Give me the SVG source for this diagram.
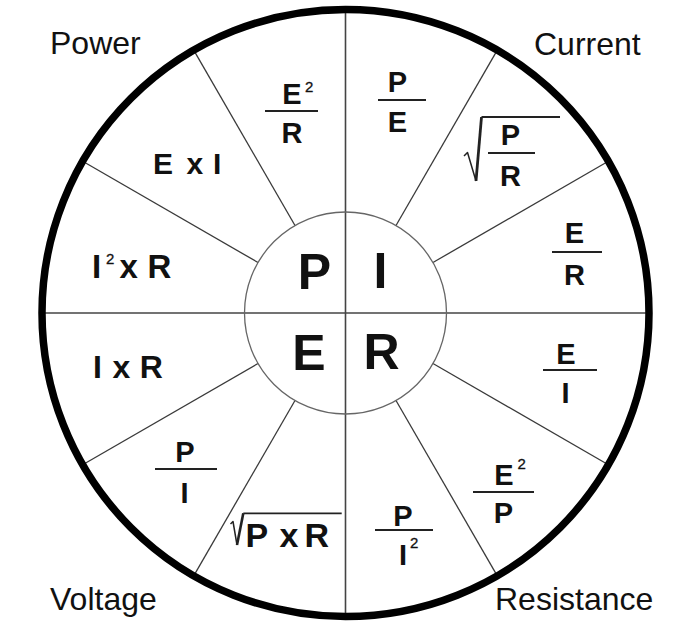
<svg xmlns="http://www.w3.org/2000/svg" width="695" height="625" viewBox="0 0 695 625">
<style>
.lbl{font-family:"Liberation Sans",Arial,sans-serif;font-size:32px;fill:#111}
.big{font-family:"Liberation Sans",Arial,sans-serif;font-size:50px;font-weight:bold;fill:#111;text-anchor:middle}
.f{font-family:"Liberation Sans",Arial,sans-serif;font-size:29px;font-weight:bold;fill:#111;text-anchor:middle}
.fx{font-family:"Liberation Sans",Arial,sans-serif;font-weight:bold;fill:#111}
.sup{font-family:"Liberation Sans",Arial,sans-serif;font-size:15px;fill:#111;stroke:#111;stroke-width:0.3}
.bar{stroke:#222;stroke-width:2}
.rad{stroke:#3a3a3a;stroke-width:1.3;fill:none}
.axis{stroke:#444;stroke-width:1.6}
.root{stroke:#222;fill:none;stroke-linejoin:round}
</style>
<rect width="695" height="625" fill="#fff"/>
<g id="connectors">
<line class="axis" x1="345.5" y1="10" x2="345.5" y2="616"/>
<line class="axis" x1="42" y1="313" x2="649" y2="313"/>
<line class="rad" x1="432.97" y1="262.5" x2="607.9" y2="161.5"/>
<line class="rad" x1="396" y1="225.53" x2="497" y2="50.6"/>
<line class="rad" x1="295" y1="225.53" x2="194" y2="50.6"/>
<line class="rad" x1="258.03" y1="262.5" x2="83.1" y2="161.5"/>
<line class="rad" x1="258.03" y1="363.5" x2="83.1" y2="464.5"/>
<line class="rad" x1="295" y1="400.47" x2="194" y2="575.4"/>
<line class="rad" x1="396" y1="400.47" x2="497" y2="575.4"/>
<line class="rad" x1="432.97" y1="363.5" x2="607.9" y2="464.5"/>
</g>
<g id="outer-circle"><circle cx="345.5" cy="313" r="303.5" fill="none" stroke="#000" stroke-width="7.5"/></g>
<g id="inner-circle"><circle cx="345.5" cy="313" r="101" fill="none" stroke="#666" stroke-width="1.3"/></g>
<g id="center-letters">
<text class="big" x="314.5" y="289">P</text>
<text class="big" x="380.5" y="288">I</text>
<text class="big" x="309" y="370">E</text>
<text class="big" x="381.5" y="369">R</text>
</g>
<g id="quadrant-labels">
<text class="lbl" x="50" y="54">Power</text>
<text class="lbl" x="534" y="55">Current</text>
<text class="lbl" x="50" y="610">Voltage</text>
<text class="lbl" x="495" y="610">Resistance</text>
</g>
<g id="power-formulas">
<g id="e2-over-r">
<text class="f" x="292" y="104">E</text><text class="sup" x="305" y="92">2</text>
<line class="bar" x1="265" y1="111" x2="318" y2="111"/>
<text class="f" x="292" y="143">R</text>
</g>
<g id="e-times-i">
<text class="fx" font-size="30" y="174"><tspan x="153">E</tspan><tspan x="186.5">x</tspan><tspan x="213">I</tspan></text>
</g>
<g id="i2-times-r">
<text class="fx" font-size="33" y="278"><tspan x="92">I</tspan><tspan x="119.5">x</tspan><tspan x="147.5">R</tspan></text>
<text class="sup" x="106" y="264">2</text>
</g>
</g>
<g id="current-formulas">
<g id="p-over-e">
<text class="f" x="397.5" y="92">P</text>
<line class="bar" x1="378" y1="100" x2="426" y2="100"/>
<text class="f" x="397.5" y="132">E</text>
</g>
<g id="sqrt-p-over-r">
<path class="root" stroke-width="1.8" d="M481.5,117 L560,117"/>
<path class="root" stroke-width="2.8" d="M476,181 L481.5,117"/>
<path class="root" stroke-width="1.5" d="M464,156 L467.5,152.5 L476,181"/>
<text class="f" x="510.5" y="145">P</text>
<line class="bar" x1="488" y1="153" x2="535" y2="153"/>
<text class="f" x="510.5" y="186">R</text>
</g>
<g id="e-over-r">
<text class="f" x="574.5" y="243">E</text>
<line class="bar" x1="552" y1="252" x2="602" y2="252"/>
<text class="f" x="574.5" y="285">R</text>
</g>
</g>
<g id="resistance-formulas">
<g id="e-over-i">
<text class="f" x="566" y="364">E</text>
<line class="bar" x1="543" y1="370" x2="597" y2="370"/>
<text class="f" x="565.5" y="403">I</text>
</g>
<g id="e2-over-p">
<text class="f" x="504" y="485">E</text><text class="sup" x="517.5" y="469">2</text>
<line class="bar" x1="473" y1="492" x2="534" y2="492"/>
<text class="f" x="503.5" y="523">P</text>
</g>
<g id="p-over-i2">
<text class="f" x="403" y="526">P</text>
<line class="bar" x1="375" y1="530" x2="433" y2="530"/>
<text class="f" x="403" y="565">I</text><text class="sup" x="410" y="548">2</text>
</g>
</g>
<g id="voltage-formulas">
<g id="sqrt-p-times-r">
<path class="root" stroke-width="1.5" d="M230.5,524 L233,521.5 L237,545"/>
<path class="root" stroke-width="2.6" d="M237,545 L243.3,513.3"/>
<path class="root" stroke-width="1.8" d="M243.3,513.3 L341.7,513.3"/>
<text class="fx" font-size="34" y="547"><tspan x="245.5">P</tspan><tspan x="279.5">x</tspan><tspan x="304.5">R</tspan></text>
</g>
<g id="p-over-i">
<text class="f" x="185" y="462">P</text>
<line class="bar" x1="155" y1="469" x2="217" y2="469"/>
<text class="f" x="184.5" y="503">I</text>
</g>
<g id="i-times-r">
<text class="fx" font-size="32" y="378"><tspan x="93">I</tspan><tspan x="112.5">x</tspan><tspan x="139.7">R</tspan></text>
</g>
</g>
</svg>
